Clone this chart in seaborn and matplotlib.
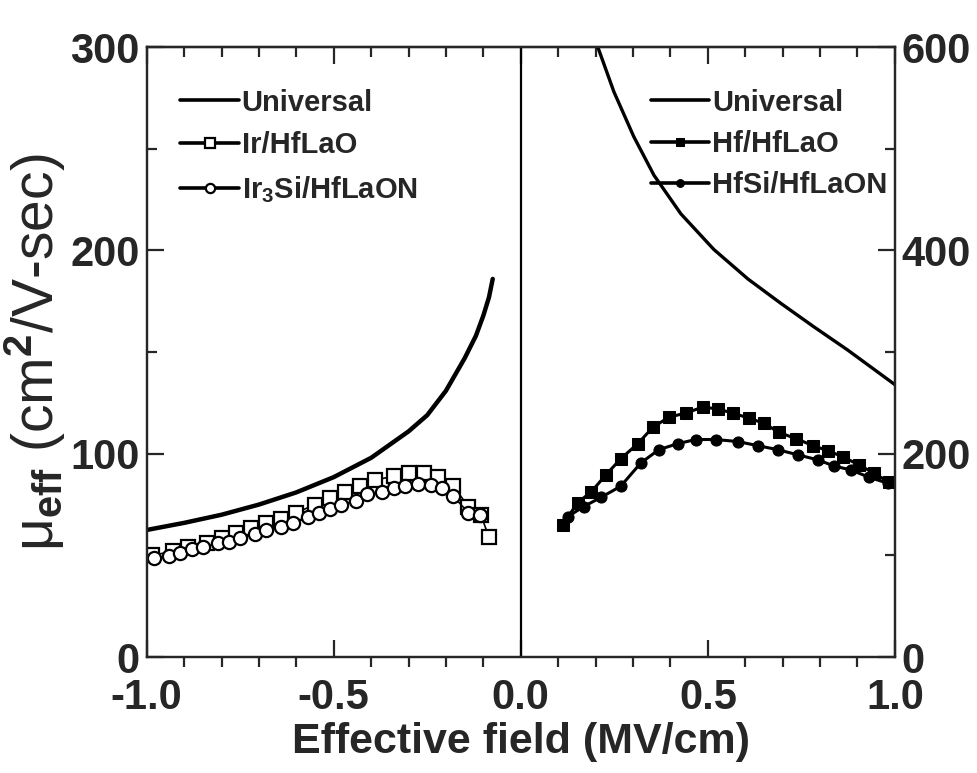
import numpy as np
import pandas as pd
import matplotlib
matplotlib.use("Agg")
import matplotlib.pyplot as plt
from matplotlib.ticker import MultipleLocator
import seaborn as sns

# ======================================
# DATA
# ======================================
# left half, left axis (0-300)
univ_l_x = [-1.0, -0.9, -0.8, -0.7, -0.6, -0.5, -0.4, -0.3, -0.25, -0.2, -0.15, -0.12, -0.1, -0.085, -0.075]
univ_l_y = [62.5, 66, 70, 75, 81, 88.5, 98, 111, 119, 131, 147, 158, 168, 177, 186]

ir_x = [-0.987, -0.93, -0.89, -0.84, -0.80, -0.76, -0.72, -0.68, -0.64, -0.60, -0.55, -0.51,
        -0.47, -0.43, -0.39, -0.34, -0.30, -0.26, -0.22, -0.18, -0.14, -0.107, -0.085]
ir_y = [50, 52, 54, 56, 58.5, 61, 63.5, 66, 68, 71, 75, 78,
        81, 84, 87, 89, 90.5, 90.5, 88.5, 84, 74, 70, 59]

ir3si_x = [-0.98, -0.94, -0.91, -0.88, -0.85, -0.81, -0.78, -0.75, -0.71, -0.68, -0.64, -0.61,
           -0.57, -0.54, -0.51, -0.48, -0.44, -0.41, -0.37, -0.34, -0.31, -0.275, -0.24, -0.21,
           -0.18, -0.14, -0.11]
ir3si_y = [48.7, 49.7, 51, 53, 54, 56, 56.5, 58.5, 60.5, 62.5, 64, 66,
           69, 71, 73, 75, 77, 80, 81, 83, 84, 85, 84.6, 83,
           79, 71, 70]

# right half, right axis (0-600)
univ_r_x = [0.206, 0.249, 0.302, 0.356, 0.428, 0.516, 0.607, 0.695, 0.783, 0.874, 0.963, 1.0]
univ_r_y = [600, 556, 512, 474, 436, 401, 372, 348, 325, 302, 278, 268]

hf_x = [0.112, 0.152, 0.187, 0.227, 0.267, 0.313, 0.353, 0.396, 0.441, 0.487, 0.527, 0.567,
        0.610, 0.650, 0.690, 0.735, 0.781, 0.821, 0.861, 0.904, 0.944, 0.984]
hf_y = [130, 152, 162, 179, 195, 210, 226, 236, 240, 246, 244, 240,
        235, 230, 221, 215, 208, 203, 197, 189, 181, 172]

hfsi_x = [0.125, 0.168, 0.214, 0.267, 0.321, 0.369, 0.420, 0.468, 0.521, 0.580, 0.633, 0.687,
          0.740, 0.794, 0.837, 0.883, 0.930, 0.981]
hfsi_y = [138, 148, 157, 168, 191, 204, 210, 214, 214, 212, 208, 204,
          199, 194, 188, 184, 177, 171]

# ======================================
# STYLE
# ======================================
sns.set_style("ticks")
plt.rcParams["font.family"] = ["Liberation Sans", "DejaVu Sans"]
plt.rcParams["font.weight"] = "bold"
plt.rcParams["axes.labelweight"] = "bold"
plt.rcParams["mathtext.fontset"] = "custom"
plt.rcParams["mathtext.rm"] = "Liberation Sans"
plt.rcParams["mathtext.it"] = "Liberation Sans"
plt.rcParams["mathtext.bf"] = "Liberation Sans:bold"
plt.rcParams["axes.linewidth"] = 1.6

fig = plt.figure(figsize=(9.78, 7.73), dpi=100)
ax = fig.add_axes([0.150, 0.150, 0.765, 0.789])
ax2 = ax.twinx()

# ======================================
# LEFT HALF
# ======================================
sns.lineplot(x=univ_l_x, y=univ_l_y, ax=ax, color="black", lw=3.2, sort=False, label="Universal")
sns.lineplot(x=ir_x, y=ir_y, ax=ax, color="black", lw=1.2, sort=False, marker="s",
             markersize=10, markerfacecolor="white", markeredgecolor="black",
             markeredgewidth=1.6, label="Ir/HfLaO")
sns.lineplot(x=ir3si_x, y=ir3si_y, ax=ax, color="black", lw=1.2, sort=False, marker="o",
             markersize=9.5, markerfacecolor="white", markeredgecolor="black",
             markeredgewidth=1.6, label=r"Ir$_3$Si/HfLaON")

# ======================================
# RIGHT HALF
# ======================================
sns.lineplot(x=univ_r_x, y=univ_r_y, ax=ax2, color="black", lw=2.4, sort=False, label="Universal")
sns.lineplot(x=hf_x, y=hf_y, ax=ax2, color="black", lw=2.2, sort=False, marker="s",
             markersize=8.5, markeredgecolor="black", label="Hf/HfLaO")
sns.lineplot(x=hfsi_x, y=hfsi_y, ax=ax2, color="black", lw=2.2, sort=False, marker="o",
             markersize=8, markeredgecolor="black", label="HfSi/HfLaON")

ax.axvline(0, color="black", lw=1.6)

# ======================================
# AXES
# ======================================
ax.set_xlim(-1.0, 1.0)
ax.set_ylim(0, 300)
ax2.set_ylim(0, 600)

ax.xaxis.set_major_locator(MultipleLocator(0.5))
ax.xaxis.set_minor_locator(MultipleLocator(0.1))
ax.yaxis.set_major_locator(MultipleLocator(100))
ax.yaxis.set_minor_locator(MultipleLocator(50))
ax2.yaxis.set_major_locator(MultipleLocator(200))
ax2.yaxis.set_minor_locator(MultipleLocator(100))

ax.tick_params(axis="x", which="major", direction="in", length=12, width=1.6, labelsize=30, pad=15)
ax.tick_params(axis="x", which="minor", direction="out", length=7, width=1.6)
ax.tick_params(axis="y", which="major", direction="in", length=12, width=1.6, labelsize=30, pad=5)
ax.tick_params(axis="y", which="minor", direction="in", length=7, width=1.6)
ax2.tick_params(axis="y", which="major", direction="in", length=12, width=1.6, labelsize=30, pad=5)
ax2.tick_params(axis="y", which="minor", direction="in", length=7, width=1.6)

top = ax.secondary_xaxis("top")
top.xaxis.set_major_locator(MultipleLocator(0.5))
top.xaxis.set_minor_locator(MultipleLocator(0.1))
top.tick_params(which="major", direction="in", length=12, width=1.6, labeltop=False)
top.tick_params(which="minor", direction="in", length=7, width=1.6)

ax.set_xticks([-1.0, -0.5, 0.0, 0.5, 1.0])
ax.set_xticklabels(["-1.0", "-0.5", "0.0", "0.5", "1.0"])
ax.set_yticks([0, 100, 200, 300])
ax2.set_yticks([0, 200, 400, 600])
for lab in ax.get_yticklabels() + ax2.get_yticklabels():
    lab.set_verticalalignment("center_baseline")

ax.set_xlabel("Effective field (MV/cm)", fontsize=31, fontweight="bold", labelpad=3)
ax.set_ylabel(r"μ$_{\rm eff}$ (cm$^2$/V-sec)", fontsize=41, fontweight="normal",
              family=["Liberation Sans", "DejaVu Sans"], labelpad=2)

# ======================================
# LEGENDS
# ======================================
leg1 = ax.legend(loc="upper left", bbox_to_anchor=(0.01, 0.975), frameon=False,
                 fontsize=21, markerscale=0.7, handlelength=2.0, handletextpad=0.1,
                 labelspacing=0.5)
leg2 = ax2.legend(loc="upper right", bbox_to_anchor=(1.025, 0.975), frameon=False,
                  fontsize=21, markerscale=0.7, handlelength=2.0, handletextpad=0.1,
                  labelspacing=0.45)
for leg in (leg1, leg2):
    for ln in leg.get_lines():
        ln.set_linewidth(2.6)

fig.savefig("out.png", dpi=100)
